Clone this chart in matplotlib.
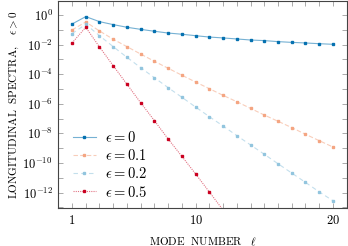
import matplotlib
matplotlib.use("Agg")
import matplotlib.pyplot as plt
import numpy as np

plt.rcParams["mathtext.fontset"] = "cm"
plt.rcParams["font.family"] = "serif"
plt.rcParams["font.serif"] = ["DejaVu Serif"]

# mode numbers
modes = list(range(1, 21))
modes_05 = list(range(1, 13))

# log10 of the longitudinal spectra
logs_eps0 = [-0.61, -0.11, -0.45, -0.65, -0.83, -0.97, -1.10, -1.22, -1.30, -1.40,
             -1.49, -1.55, -1.62, -1.69, -1.73, -1.80, -1.85, -1.89, -1.94, -1.98]
logs_eps01 = [-1.01, -0.47, -1.08, -1.64, -2.14, -2.64, -3.13, -3.60, -4.07, -4.53,
              -4.98, -5.43, -5.86, -6.31, -6.76, -7.18, -7.61, -8.06, -8.49, -8.92]
logs_eps02 = [-1.26, -0.63, -1.40, -2.14, -2.86, -3.56, -4.24, -4.91, -5.56, -6.22,
              -6.87, -7.50, -8.15, -8.78, -9.41, -10.05, -10.68, -11.31, -11.95, -12.55]
logs_eps05 = [-1.89, -0.83, -2.16, -3.43, -4.68, -5.93, -7.14, -8.38, -9.55, -10.74,
              -11.96, -13.18]

labels = [r"$\epsilon = 0$", r"$\epsilon = 0.1$", r"$\epsilon = 0.2$", r"$\epsilon = 0.5$"]
colors = ["#0571b0", "#f4a582", "#92c5de", "#ca0020"]
styles = ["-", (0, (4, 2)), (0, (4, 3)), (0, (1, 1))]

fig = plt.figure(figsize=(3.48, 2.46), dpi=100)
ax = fig.add_axes([58.3 / 348, 1 - 208.3 / 246, (346.7 - 58.3) / 348, (208.3 - 1) / 246])

series = [(modes, logs_eps0), (modes, logs_eps01), (modes, logs_eps02), (modes_05, logs_eps05)]
handles = []
for (xs, ls), c, st in zip(series, colors, styles):
    ys = 10.0 ** np.array(ls)
    ln, = ax.plot(xs, ys, color=c, ls=st, lw=0.8, alpha=0.55)
    mk, = ax.plot(xs, ys, ls="none", marker="s", ms=1.7, color=c, mec=c)
    handles.append((ln, mk))

ax.set_yscale("log")
ax.set_xlim(0, 21)
ax.set_ylim(10 ** -13.06, 10 ** 0.945)

ax.set_xticks(range(1, 21))
ax.set_xticklabels([r"$%d$" % v if v in (1, 10, 20) else "" for v in range(1, 21)])
yt = [10.0 ** k for k in range(-13, 1)]
ax.set_yticks(yt)
ax.set_yticklabels([r"$10^{%d}$" % k if k % 2 == 0 else "" for k in range(-13, 1)])
ax.yaxis.set_minor_locator(matplotlib.ticker.NullLocator())
ax.tick_params(direction="in", length=3.5, width=0.5, color="#888888",
               top=True, right=True, labelsize=9, pad=4)
for s in ax.spines.values():
    s.set_linewidth(0.8)
    s.set_color("#444444")

ax.set_xlabel(r"$\mathrm{MODE\ \ NUMBER}\ \ \ \ell$", fontsize=8, labelpad=6)
ax.set_ylabel(r"$\mathrm{LONGITUDINAL\ \ SPECTRA,}\ \ \ \epsilon > 0$", fontsize=8, labelpad=1)

ax.legend(handles, labels, loc="lower left", frameon=False, fontsize=10.5,
          handlelength=1.6, handletextpad=0.6, labelspacing=0.22,
          borderaxespad=0.2, bbox_to_anchor=(0.02, 0.0))

fig.savefig("out.png", dpi=100)
